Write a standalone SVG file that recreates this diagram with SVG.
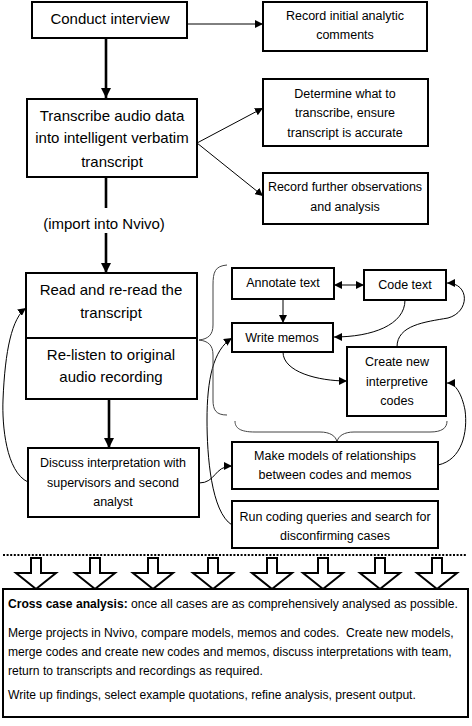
<svg xmlns="http://www.w3.org/2000/svg" width="472" height="726" viewBox="0 0 472 726">
<style>
  .box { fill: #fff; stroke: #000; stroke-width: 2; }
  .big { font-family: "Liberation Sans", Arial, sans-serif; font-size: 15px; fill: #000; text-anchor: middle; }
  .sm { font-family: "Liberation Sans", Arial, sans-serif; font-size: 12.5px; fill: #000; text-anchor: middle; }
  .bt { font-family: "Liberation Sans", Arial, sans-serif; font-size: 12.1px; fill: #000; white-space: pre; }
  .thin { fill: none; stroke: #000; stroke-width: 1; }
  .thick { fill: none; stroke: #000; stroke-width: 2.6; }
  .brace { fill: none; stroke: #444; stroke-width: 1; }
  .hollow { fill: #fff; stroke: #000; stroke-width: 2; stroke-linejoin: miter; }
</style>
<defs>
  <marker id="a" markerUnits="userSpaceOnUse" markerWidth="8" markerHeight="8" viewBox="0 0 8 8" refX="8" refY="4" orient="auto-start-reverse">
    <path d="M0,0 L8,4 L0,8 Z" fill="#000"/>
  </marker>
  <marker id="ab" markerUnits="userSpaceOnUse" markerWidth="10" markerHeight="10" viewBox="0 0 10 10" refX="10" refY="5" orient="auto">
    <path d="M0,0 L10,5 L0,10 Z" fill="#000"/>
  </marker>
  <path id="ha" d="M-5,0 L5,0 L5,15 L20,15 L0,31 L-20,15 L-5,15 Z"/>
</defs>

<g id="connectors">
  <path class="thin" d="M187,24 L263,24" marker-end="url(#a)"/>
  <path class="thin" d="M197,143 L263,108" marker-end="url(#a)"/>
  <path class="thin" d="M197,143 L263,196" marker-end="url(#a)"/>
  <path class="thick" d="M106,38 L106,98" marker-end="url(#ab)"/>
  <path class="thick" d="M106,177 L106,208"/>
  <path class="thick" d="M106,233 L106,273" marker-end="url(#ab)"/>
  <path class="thick" d="M109,399 L109,448" marker-end="url(#ab)"/>
  <path class="thin" d="M283,299 L283,323" marker-end="url(#a)"/>
  <path class="thin" d="M334,285 L364,285" marker-start="url(#a)" marker-end="url(#a)"/>
  <path class="thin" d="M405,300 C405,325 372,337 334,337" marker-end="url(#a)"/>
  <path class="thin" d="M283,352 C283,372 318,381 347,381" marker-end="url(#a)"/>
  <path class="thin" d="M397,347 C397,325 425,322 448,318 C470,312 470,283 447,283" marker-end="url(#a)"/>
  <path class="thin" d="M438,465 C462,460 468,432 465,410 C462,395 456,383 447,383" marker-end="url(#a)"/>
  <path class="thin" d="M28,482 C6,472 2,425 3,400 C5,350 12,318 26,308" marker-end="url(#a)"/>
  <path class="thin" d="M232,525 C211,512 207,455 207,420 C207,380 213,350 232,338" marker-end="url(#a)"/>
  <path class="thin" d="M199,483 C216,483 214,466 232,466" marker-end="url(#a)"/>
  <path class="brace" d="M227,265 C215,266 213,272 213,285 L213,325 C213,335 208,339 199,340 C208,341 213,345 213,355 L213,400 C213,410 216,415 227,415"/>
  <path class="brace" d="M235,421 C235,428 240,432 255,432 L320,432 C330,432 336,436 337,442 C338,436 344,432 354,432 L430,432 C442,432 447,428 447,421"/>
  <path d="M3,555 L467,555" stroke="#000" stroke-width="2" stroke-dasharray="2 1.6"/>
  <use href="#ha" class="hollow" x="36" y="558"/>
  <use href="#ha" class="hollow" x="95" y="558"/>
  <use href="#ha" class="hollow" x="153" y="558"/>
  <use href="#ha" class="hollow" x="213" y="558"/>
  <use href="#ha" class="hollow" x="272" y="558"/>
  <use href="#ha" class="hollow" x="323" y="558"/>
  <use href="#ha" class="hollow" x="380" y="558"/>
  <use href="#ha" class="hollow" x="437" y="558"/>
</g>

<g id="conduct">
  <rect class="box" x="32" y="2" width="155" height="36"/>
  <text class="big" x="110" y="24">Conduct interview</text>
</g>
<g id="record-initial">
  <rect class="box" x="263" y="2" width="164" height="49"/>
  <text class="sm" x="345" y="20">Record initial analytic</text>
  <text class="sm" x="345" y="39">comments</text>
</g>
<g id="transcribe">
  <rect class="box" x="27" y="99" width="170" height="78"/>
  <text class="big" x="112" y="121">Transcribe audio data</text>
  <text class="big" x="112" y="143">into intelligent verbatim</text>
  <text class="big" x="112" y="167">transcript</text>
</g>
<g id="determine">
  <rect class="box" x="263" y="79" width="165" height="67"/>
  <text class="sm" x="345" y="98">Determine what to</text>
  <text class="sm" x="345" y="117">transcribe, ensure</text>
  <text class="sm" x="345" y="137">transcript is accurate</text>
</g>
<g id="record-further">
  <rect class="box" x="263" y="173" width="165" height="51"/>
  <text class="sm" x="345" y="191">Record further observations</text>
  <text class="sm" x="345" y="211">and analysis</text>
</g>
<g id="import-label">
  <text class="big" x="104" y="229">(import into Nvivo)</text>
</g>
<g id="read">
  <rect class="box" x="26" y="273" width="171" height="126"/>
  <line x1="26" y1="338" x2="197" y2="338" stroke="#000" stroke-width="2"/>
  <text class="big" x="111" y="295">Read and re-read the</text>
  <text class="big" x="111" y="318">transcript</text>
  <text class="big" x="111" y="360">Re-listen to original</text>
  <text class="big" x="111" y="382">audio recording</text>
</g>
<g id="annotate">
  <rect class="box" x="232" y="268" width="102" height="31"/>
  <text class="sm" x="283" y="287">Annotate text</text>
</g>
<g id="code-text">
  <rect class="box" x="364" y="270" width="82" height="30"/>
  <text class="sm" x="405" y="289">Code text</text>
</g>
<g id="write-memos">
  <rect class="box" x="232" y="323" width="101" height="29"/>
  <text class="sm" x="282" y="342">Write memos</text>
</g>
<g id="create-codes">
  <rect class="box" x="347" y="347" width="99" height="69"/>
  <text class="sm" x="397" y="366">Create new</text>
  <text class="sm" x="397" y="386">interpretive</text>
  <text class="sm" x="397" y="405">codes</text>
</g>
<g id="discuss">
  <rect class="box" x="28" y="448" width="171" height="69"/>
  <text class="sm" x="113" y="467">Discuss interpretation with</text>
  <text class="sm" x="113" y="487">supervisors and second</text>
  <text class="sm" x="113" y="506">analyst</text>
</g>
<g id="models">
  <rect class="box" x="232" y="442" width="206" height="47"/>
  <text class="sm" x="335" y="460">Make models of relationships</text>
  <text class="sm" x="335" y="479">between codes and memos</text>
</g>
<g id="queries">
  <rect class="box" x="232" y="501" width="206" height="47"/>
  <text class="sm" x="335" y="521">Run coding queries and search for</text>
  <text class="sm" x="335" y="540">disconfirming cases</text>
</g>
<g id="cross-case">
  <rect class="box" x="3" y="589" width="465" height="128"/>
  <text class="bt" x="8" y="608"><tspan font-weight="bold">Cross case analysis:</tspan> once all cases are as comprehensively analysed as possible.</text>
  <text class="bt" x="8" y="637">Merge projects in Nvivo, compare models, memos and codes.  Create new models,</text>
  <text class="bt" x="8" y="656">merge codes and create new codes and memos, discuss interpretations with team,</text>
  <text class="bt" x="8" y="675">return to transcripts and recordings as required.</text>
  <text class="bt" x="8" y="699">Write up findings, select example quotations, refine analysis, present output.</text>
</g>
</svg>
